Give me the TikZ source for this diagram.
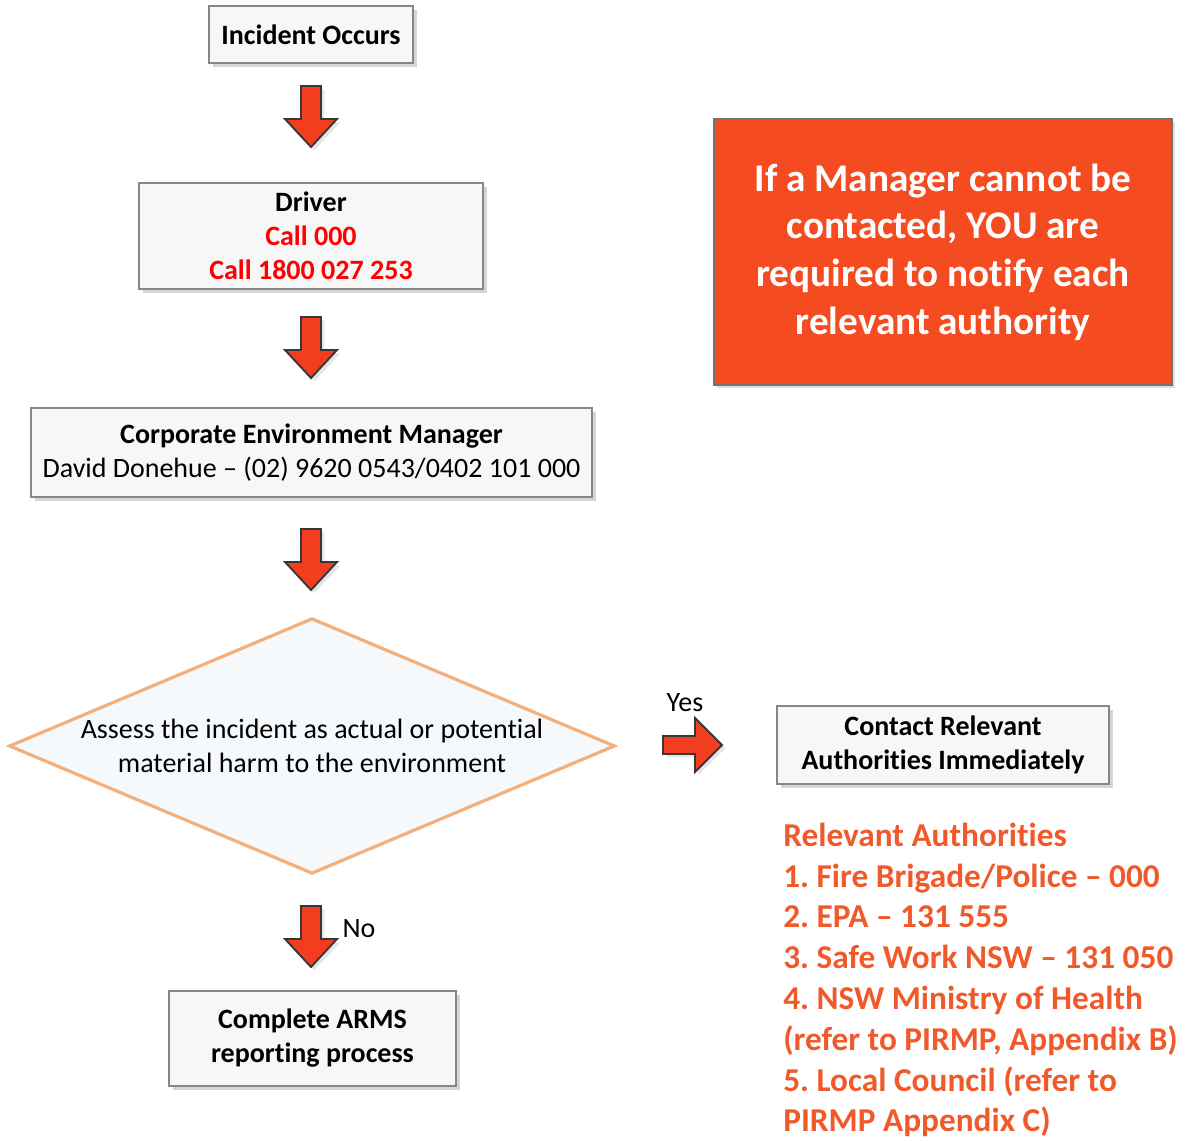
\documentclass[tikz,border=0pt]{standalone}
\usepackage{fontspec}
\setmainfont{Carlito}[Ligatures=NoCommon]
\frenchspacing
\usetikzlibrary{shapes.geometric,shadows,calc}
\definecolor{boxline}{RGB}{135,135,135}
\definecolor{boxfill}{RGB}{247,247,247}
\definecolor{arrfill}{RGB}{242,62,30}
\definecolor{arrline}{RGB}{55,55,55}
\definecolor{alertfill}{RGB}{244,76,32}
\definecolor{diafill}{RGB}{246,249,252}
\definecolor{dialine}{RGB}{244,176,124}
\definecolor{authcol}{RGB}{240,90,42}
\definecolor{callred}{RGB}{255,0,0}
\tikzset{
  stepbox/.style={draw=boxline, line width=1.5pt, fill=boxfill, inner sep=0pt,
    align=center, font=\fontsize{21}{25.5}\selectfont\bfseries,
    drop shadow={shadow xshift=3pt, shadow yshift=-3pt, fill=black!30, opacity=.55}},
  blockarrow/.style={draw=arrline, line width=1.4pt, fill=arrfill, line join=miter,
    drop shadow={shadow xshift=2.5pt, shadow yshift=-2.5pt, fill=black!20, opacity=.5}},
  darr/.pic={\path[blockarrow] (-10,0) -- (10,0) -- (10,33) -- (26,33) -- (0,61) -- (-26,33) -- (-10,33) -- cycle;},
  rarr/.pic={\path[blockarrow] (0,-9) -- (32,-9) -- (32,-27) -- (59,0) -- (32,27) -- (32,9) -- (0,9) -- cycle;},
  lbl/.style={font=\fontsize{21}{25.5}\selectfont, inner sep=0pt}
}
\begin{document}
\begin{tikzpicture}[x=0.75pt,y=-0.75pt]
\useasboundingbox (0,0) rectangle (1197,1141);

\node[stepbox, minimum width=204*0.75pt, minimum height=57*0.75pt] (inc) at (311,34.5) {Incident Occurs};
\node[stepbox, minimum width=344*0.75pt, minimum height=106*0.75pt] (drv) at (311,236)
  {Driver\\ \textcolor{callred}{Call 000}\\ \textcolor{callred}{Call 1800 027 253}};
\node[stepbox, minimum width=561*0.75pt, minimum height=89*0.75pt] (cem) at (311.5,452.5)
  {Corporate Environment Manager\\ \mdseries David Donehue -- (02) 9620 0543/0402 101 000};
\node[diamond, aspect=2.29, draw=dialine, line width=2.4pt, fill=diafill, inner sep=0pt,
  minimum width=606*0.75pt, align=center,
  font=\fontsize{21}{25.5}\selectfont] (dia) at (312,746)
  {Assess the incident as actual or potential\\ material harm to the environment};
\node[stepbox, minimum width=332*0.75pt, minimum height=78*0.75pt] (con) at (943,745)
  {Contact Relevant\\ Authorities Immediately};
\node[stepbox, minimum width=287*0.75pt, minimum height=95*0.75pt] (arms) at (312.5,1038.5)
  {Complete ARMS\\ reporting process};
\node[draw=black!55, line width=0.8pt, fill=alertfill, text=white, align=center,
  minimum width=458*0.75pt, minimum height=266*0.75pt, inner sep=0pt,
  font=\fontsize{29.4}{35.8}\selectfont\bfseries,
  drop shadow={shadow xshift=2pt, shadow yshift=-2pt, fill=black!25, opacity=.5}] (alert) at (943,252)
  {If a Manager cannot be\\ contacted, YOU are\\ required to notify each\\ relevant authority};
\node[anchor=west, align=left, inner sep=0pt, text=authcol,
  font=\fontsize{25}{30.6}\selectfont\bfseries] (auth) at (783,980)
  {Relevant Authorities\\ 1. Fire Brigade/Police -- 000\\ 2. EPA -- 131 555\\
   3. Safe Work NSW -- 131 050\\ 4. NSW Ministry of Health\\ (refer to PIRMP, Appendix B)\\
   5. Local Council (refer to\\ PIRMP Appendix C)};

\coordinate (a1) at (311,86);
\coordinate (a2) at (311,317);
\coordinate (a3) at (311,529);
\coordinate (a4) at (311,906);
\coordinate (a5) at (663,745);
\pic at (a1) {darr};
\pic at (a2) {darr};
\pic at (a3) {darr};
\pic at (a4) {darr};
\pic at (a5) {rarr};

\node[lbl] (yes) at (685,703) {Yes};
\node[lbl] (no) at (359,929) {No};
\end{tikzpicture}
\end{document}
